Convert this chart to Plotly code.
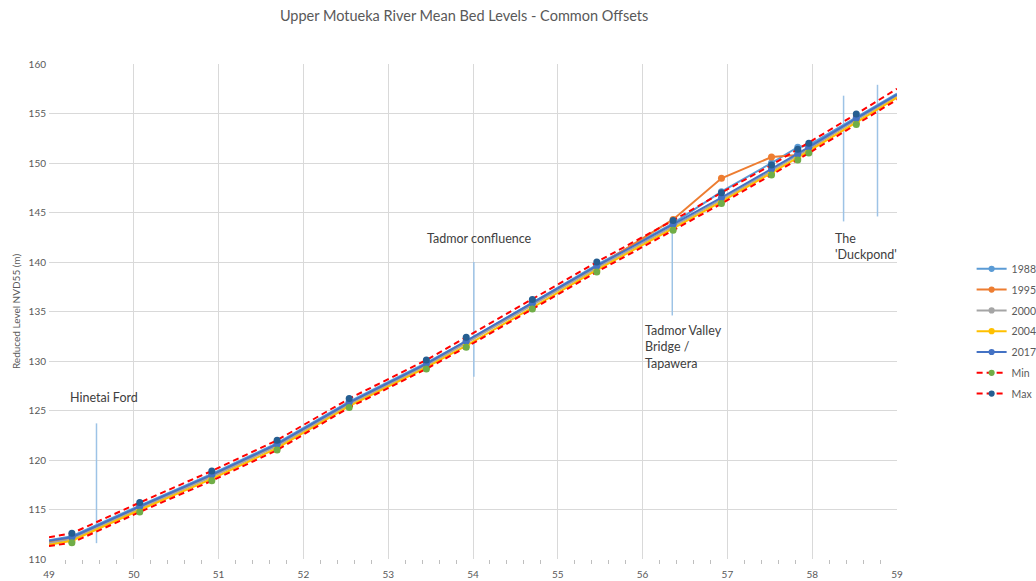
import plotly.graph_objects as go

# Common offsets (km) – first and last are line ends without markers
offsets = [49.0, 49.27, 50.07, 50.92, 51.69, 52.54, 53.45, 53.92, 54.70, 55.46,
           56.36, 56.93, 57.52, 57.83, 57.96, 58.52, 59.0]

y1988 = [111.9, 112.3, 115.4, 118.6, 121.7, 125.9, 129.8, 132.0, 135.9, 139.7,
         143.9, 147.1, 150.0, 151.6, 151.8, 154.6, 157.0]
y1995 = [111.7, 112.1, 115.2, 118.4, 121.5, 125.7, 129.6, 131.9, 135.7, 139.5,
         144.3, 148.45, 150.6, 150.8, 151.4, 154.4, 156.8]
y2000 = [111.6, 112.0, 115.1, 118.3, 121.4, 125.6, 129.5, 131.8, 135.6, 139.4,
         143.6, 146.3, 149.2, 150.8, 151.4, 154.3, 156.8]
y2004 = [111.45, 111.85, 114.95, 118.1, 121.2, 125.45, 129.35, 131.55, 135.4, 139.2,
         143.4, 146.1, 149.0, 150.5, 151.2, 154.1, 156.6]
y2017 = [111.85, 112.2, 115.3, 118.5, 121.6, 125.8, 129.7, 132.0, 135.8, 139.6,
         143.8, 146.5, 149.4, 150.9, 151.6, 154.5, 156.9]
y_min = [111.3, 111.65, 114.75, 117.9, 121.0, 125.3, 129.2, 131.4, 135.25, 139.0,
         143.2, 145.9, 148.8, 150.3, 151.0, 153.9, 156.4]
y_max = [112.2, 112.6, 115.7, 118.9, 122.0, 126.2, 130.1, 132.4, 136.2, 140.0,
         144.2, 147.0, 149.8, 151.4, 152.0, 154.95, 157.5]

# Location marker lines: (x, y_top, y_bottom)
loc_x = [49.56, 54.01, 56.35, 58.37, 58.77]
loc_top = [123.7, 140.0, 144.0, 156.8, 157.9]
loc_bot = [111.6, 128.4, 134.6, 144.1, 144.6]

labels = ["Hinetai Ford", "Tadmor confluence", "Tadmor Valley<br>Bridge /<br>Tapawera",
          "The<br>'Duckpond'"]
label_x = [49.22, 53.43, 56.0, 58.25]
label_y = [126.3, 142.4, 131.4, 141.6]

FONT = "Lato, 'Open Sans', sans-serif"
msize = [0] + [7] * (len(offsets) - 2) + [0]

fig = go.Figure()

# Location pointer lines (drawn first, behind)
for lx, lt, lb in zip(loc_x, loc_top, loc_bot):
    fig.add_trace(go.Scatter(x=[lx, lx], y=[lb, lt], mode="lines",
                             line=dict(color="#9DC3E6", width=1.5),
                             showlegend=False, hoverinfo="skip"))

series = [("1988", y1988, "#5B9BD5"), ("1995", y1995, "#ED7D31"),
          ("2000", y2000, "#A5A5A5"), ("2004", y2004, "#FFC000"),
          ("2017", y2017, "#4472C4")]
for name, ys, col in series:
    fig.add_trace(go.Scatter(x=offsets, y=ys, name=name, legendgroup=name,
                             mode="lines+markers",
                             line=dict(color=col, width=2),
                             marker=dict(color=col, size=msize, opacity=1,
                                         line=dict(width=0))))

fig.add_trace(go.Scatter(x=offsets, y=y_min, name="Min", legendgroup="Min",
                         mode="lines+markers",
                         line=dict(color="#FF0000", width=2, dash="6px,4px"),
                         marker=dict(color="#70AD47", size=msize, opacity=1,
                                     line=dict(width=0))))
fig.add_trace(go.Scatter(x=offsets, y=y_max, name="Max", legendgroup="Max",
                         mode="lines+markers",
                         line=dict(color="#FF0000", width=2, dash="6px,4px"),
                         marker=dict(color="#255E91", size=msize, opacity=1,
                                     line=dict(width=0))))

for t, lx, ly in zip(labels, label_x, label_y):
    fig.add_annotation(x=lx, y=ly, text=t, showarrow=False, xanchor="left",
                       yanchor="middle", align="left",
                       font=dict(family=FONT, size=12.5, color="#404040"))

fig.update_layout(
    width=1036, height=581,
    margin=dict(l=49, r=139, t=64, b=22, autoexpand=False),
    paper_bgcolor="white", plot_bgcolor="white",
    title=dict(text="Upper Motueka River Mean Bed Levels - Common Offsets",
               x=0.448, xanchor="center", y=0.972, yanchor="middle",
               font=dict(family=FONT, size=14.5, color="#595959")),
    font=dict(family=FONT, color="#595959"),
    legend=dict(x=1.088, xanchor="left", y=0.46, yanchor="middle",
                font=dict(family=FONT, size=10.5, color="#595959"),
                traceorder="grouped", tracegroupgap=1.8,
                bgcolor="rgba(0,0,0,0)"),
    showlegend=True,
)
fig.update_xaxes(range=[49, 59], dtick=1, tick0=49, showgrid=True,
                 gridcolor="#D9D9D9", gridwidth=1, zeroline=False,
                 showline=False, ticks="", ticklabelstandoff=8,
                 tickfont=dict(size=10, color="#595959"),
                 minor=dict(dtick=0.2, ticks="outside", ticklen=4,
                            tickcolor="#BFBFBF", showgrid=False))
fig.update_yaxes(range=[110, 160], dtick=5, showgrid=True, gridcolor="#D9D9D9",
                 gridwidth=1, zeroline=False, showline=False, ticklabelstandoff=2,
                 tickfont=dict(size=10, color="#595959"),
                 title=dict(text="Reduced Level NVD55 (m)", standoff=6,
                            font=dict(size=10, color="#595959")))

fig.write_html("out.html")
